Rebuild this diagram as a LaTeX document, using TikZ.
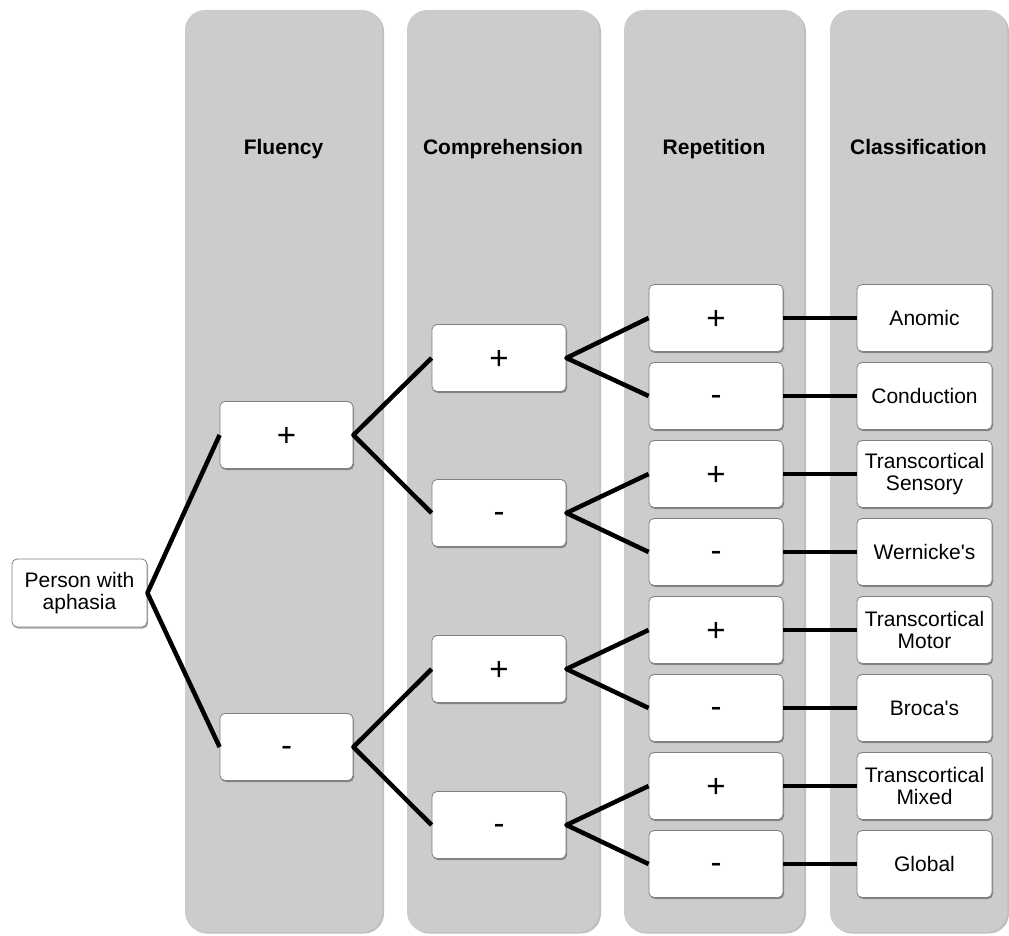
\documentclass[tikz,border=0pt]{standalone}
\usepackage{fontspec}
\setmainfont{Liberation Sans}
\usetikzlibrary{shadows}
\definecolor{colfill}{HTML}{CCCCCC}
\definecolor{boxline}{HTML}{7F7F7F}
\begin{document}
\begin{tikzpicture}[x=1pt,y=-1pt,
  column/.style={fill=colfill, rounded corners=20pt,
    drop shadow={shadow xshift=2pt, shadow yshift=-1.5pt, opacity=0.25, fill=black}},
  header/.style={font=\bfseries\fontsize{21}{22}\selectfont, inner sep=0pt, anchor=base},
  basebox/.style={draw=boxline, fill=white, line width=0.8pt, rounded corners=5pt,
    minimum width=134pt, minimum height=67pt, inner sep=0pt,
    drop shadow={shadow xshift=1pt, shadow yshift=-1.5pt, opacity=0.35, fill=black}},
  tbox/.style={basebox, align=center, font=\fontsize{21}{22}\selectfont},
  sbox/.style={basebox, text height=0pt, text depth=0pt, font=\fontsize{33}{34}\selectfont},
  link/.style={line width=4.5pt, line join=round}]
\newcommand{\plussign}{\raisebox{-0.357em}{+}}
\newcommand{\minussign}{\raisebox{-0.28em}{-}}
\useasboundingbox (0,0) rectangle (1009,936);
% columns
\fill[column] (185,10) rectangle (382,932);
\fill[column] (407,10) rectangle (599,932);
\fill[column] (624,10) rectangle (804,932);
\fill[column] (830,10) rectangle (1007,932);
% headers
\node[header] (hF) at (283.5,155) {Fluency};
\node[header] (hC) at (503,155) {Comprehension};
\node[header] (hR) at (714,155) {Repetition};
\node[header] (hK) at (918.5,155) {Classification};
% root
\node[tbox, minimum width=135pt, minimum height=68pt] (root) at (79.5,593) {Person with\\aphasia};
% fluency
\node[sbox, minimum width=133pt] (f1) at (286.5,435) {\plussign};
\node[sbox, minimum width=133pt] (f2) at (286.5,747) {\minussign};
% comprehension
\node[sbox] (c1) at (499,358) {\plussign};
\node[sbox] (c2) at (499,513) {\minussign};
\node[sbox] (c3) at (499,669) {\plussign};
\node[sbox] (c4) at (499,825) {\minussign};
% repetition
\node[sbox] (r1) at (716,318) {\plussign};
\node[sbox] (r2) at (716,396) {\minussign};
\node[sbox] (r3) at (716,474) {\plussign};
\node[sbox] (r4) at (716,552) {\minussign};
\node[sbox] (r5) at (716,630) {\plussign};
\node[sbox] (r6) at (716,708) {\minussign};
\node[sbox] (r7) at (716,786) {\plussign};
\node[sbox] (r8) at (716,864) {\minussign};
% classification
\node[tbox, minimum width=135pt] (k1) at (924.5,318) {Anomic};
\node[tbox, minimum width=135pt] (k2) at (924.5,396) {Conduction};
\node[tbox, minimum width=135pt] (k3) at (924.5,474) {Transcortical\\Sensory};
\node[tbox, minimum width=135pt] (k4) at (924.5,552) {Wernicke\textquotesingle s};
\node[tbox, minimum width=135pt] (k5) at (924.5,630) {Transcortical\\Motor};
\node[tbox, minimum width=135pt] (k6) at (924.5,708) {Broca\textquotesingle s};
\node[tbox, minimum width=135pt] (k7) at (924.5,786) {Transcortical\\Mixed};
\node[tbox, minimum width=135pt] (k8) at (924.5,864) {Global};
% connectors
\draw[link] (f1.west) -- (root.east) -- (f2.west);
\draw[link] (c1.west) -- (f1.east) -- (c2.west);
\draw[link] (c3.west) -- (f2.east) -- (c4.west);
\draw[link] (r1.west) -- (c1.east) -- (r2.west);
\draw[link] (r3.west) -- (c2.east) -- (r4.west);
\draw[link] (r5.west) -- (c3.east) -- (r6.west);
\draw[link] (r7.west) -- (c4.east) -- (r8.west);
\foreach \i in {1,...,8}{\draw[link] (r\i.east) -- (k\i.west);}
\end{tikzpicture}
\end{document}
